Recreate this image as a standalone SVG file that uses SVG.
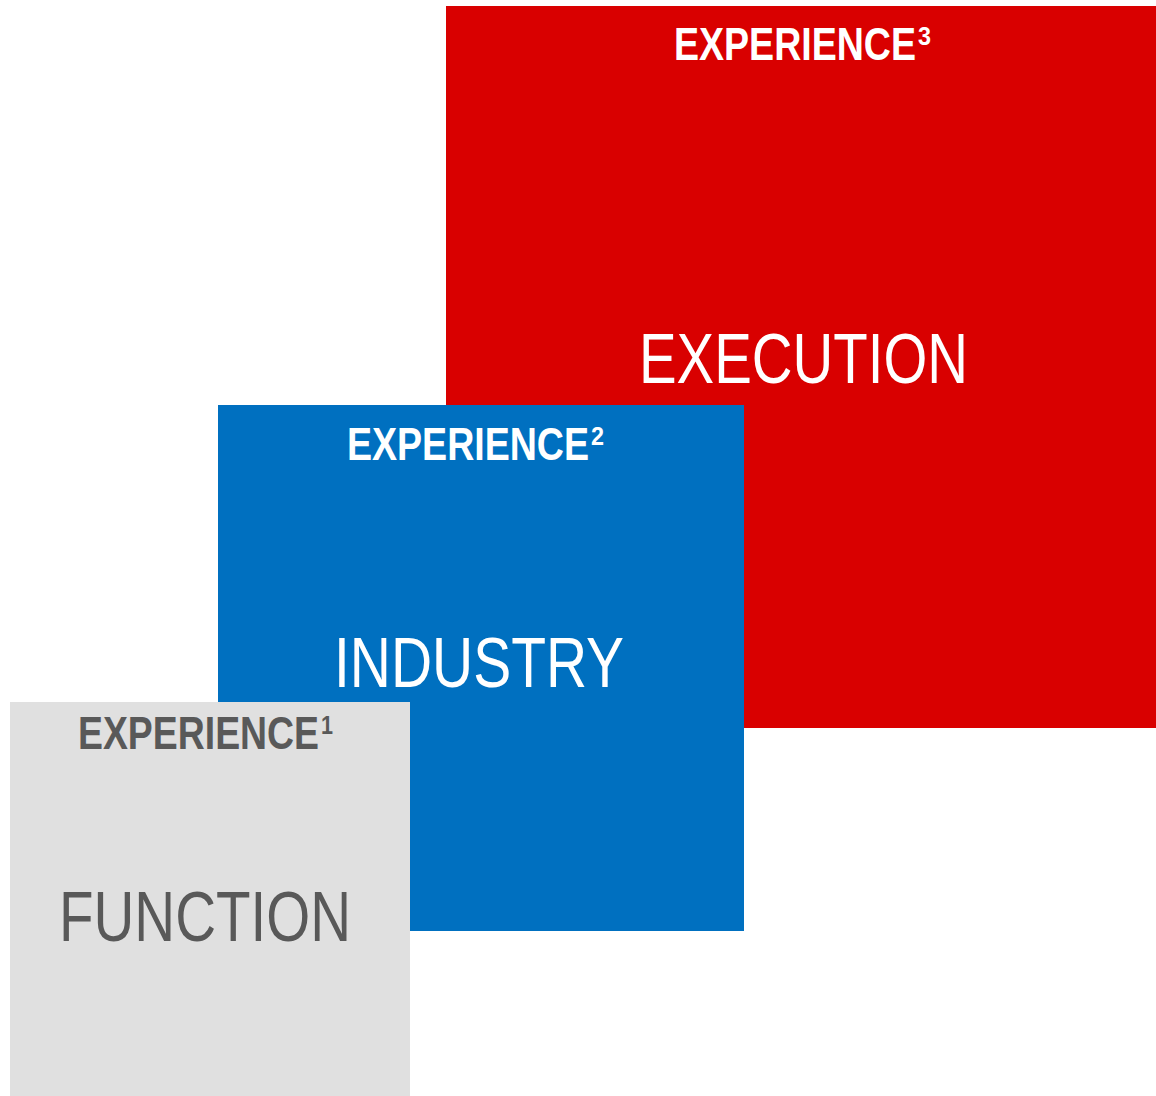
<svg xmlns="http://www.w3.org/2000/svg" width="1156" height="1096" viewBox="0 0 1156 1096">
<style>
.hd{font-family:"Liberation Sans",Arial,sans-serif;font-weight:bold;font-size:46px}
.sup{font-size:26px}
.big{font-family:"Liberation Sans",Arial,sans-serif;font-size:70px}
.w{fill:#FFFFFF}
.g{fill:#595959}
</style>
<rect width="1156" height="1096" fill="#FFFFFF"/>
<g id="execution">
<rect x="446" y="6" width="710" height="722" fill="#D90000"/>
<text class="hd w" x="674" y="60"><tspan textLength="242" lengthAdjust="spacingAndGlyphs">EXPERIENCE</tspan><tspan class="sup" x="918" y="45" textLength="13" lengthAdjust="spacingAndGlyphs">3</tspan></text>
<text class="big w" x="639" y="383" textLength="329" lengthAdjust="spacingAndGlyphs">EXECUTION</text>
</g>
<g id="industry">
<rect x="218" y="405" width="526" height="526" fill="#0070C0"/>
<text class="hd w" x="347" y="460"><tspan textLength="242" lengthAdjust="spacingAndGlyphs">EXPERIENCE</tspan><tspan class="sup" x="591" y="445" textLength="13" lengthAdjust="spacingAndGlyphs">2</tspan></text>
<text class="big w" x="334" y="687" textLength="290" lengthAdjust="spacingAndGlyphs">INDUSTRY</text>
</g>
<g id="function">
<rect x="10" y="702" width="400" height="394" fill="#E0E0E0"/>
<text class="hd g" x="78" y="749"><tspan textLength="241" lengthAdjust="spacingAndGlyphs">EXPERIENCE</tspan><tspan class="sup" x="321" y="734" textLength="12" lengthAdjust="spacingAndGlyphs">1</tspan></text>
<text class="big g" x="59" y="941" textLength="292" lengthAdjust="spacingAndGlyphs">FUNCTION</text>
</g>
<g id="connectors"/>
</svg>
